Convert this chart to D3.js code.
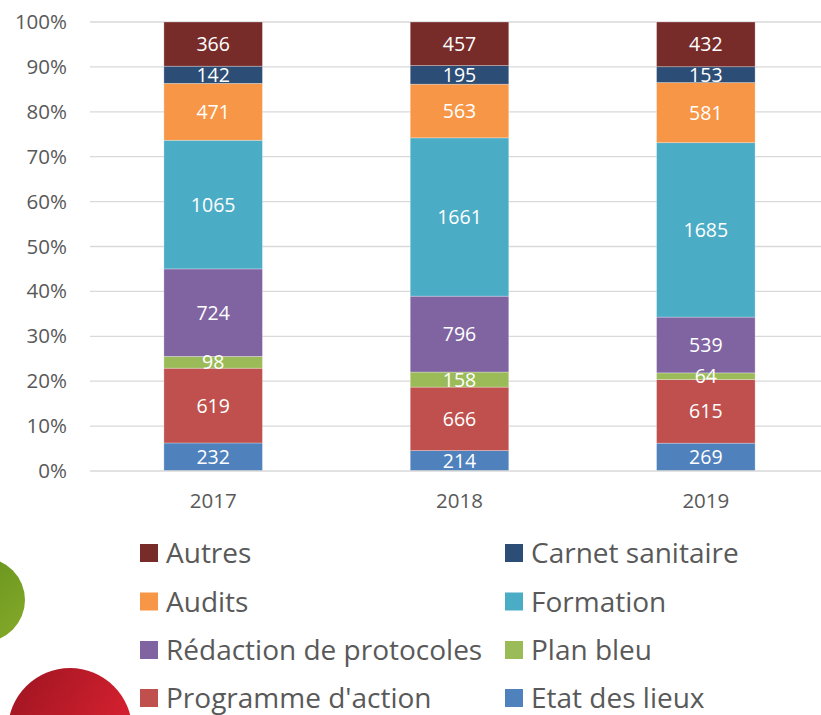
<!DOCTYPE html>
<html><head><meta charset="utf-8">
<script src="https://cdn.jsdelivr.net/npm/d3@7"></script>
<style>html,body{margin:0;padding:0;background:#fff;overflow:hidden}</style>
</head><body>
<svg id="c" width="821" height="715"></svg>
<script>
const years = ["2017", "2018", "2019"];
const seriesNames = ["Etat des lieux", "Programme d'action", "Plan bleu", "Rédaction de protocoles", "Formation", "Audits", "Carnet sanitaire", "Autres"];
const etatDesLieux = [232, 214, 269];
const programmeAction = [619, 666, 615];
const planBleu = [98, 158, 64];
const redaction = [724, 796, 539];
const formation = [1065, 1661, 1685];
const audits = [471, 563, 581];
const carnet = [142, 195, 153];
const autres = [366, 457, 432];
const yTicks = [0, 0.1, 0.2, 0.3, 0.4, 0.5, 0.6, 0.7, 0.8, 0.9, 1.0];
const colors = ["#4f81bd", "#c0504d", "#9bbb59", "#8064a2", "#4bacc6", "#f79646", "#2c4d75", "#772c2a"];
const legendOrder = [["Autres", "Carnet sanitaire"], ["Audits", "Formation"], ["Rédaction de protocoles", "Plan bleu"], ["Programme d'action", "Etat des lieux"]];

const seriesValues = [etatDesLieux, programmeAction, planBleu, redaction, formation, audits, carnet, autres];
const rows = years.map((y, i) => {
  const r = {year: y};
  seriesNames.forEach((s, k) => r[s] = seriesValues[k][i]);
  return r;
});

const FONT = "'Open Sans', sans-serif";
const svg = d3.select("#c");
const defs = svg.append("defs");
const gg = defs.append("linearGradient").attr("id", "gGreen").attr("x1", "0").attr("y1", "0").attr("x2", "1").attr("y2", "1");
gg.append("stop").attr("offset", "0").attr("stop-color", "#5e8c1a");
gg.append("stop").attr("offset", "1").attr("stop-color", "#86ab2a");
const gr = defs.append("linearGradient").attr("id", "gRed").attr("x1", "0").attr("y1", "0").attr("x2", "1").attr("y2", "0.6");
gr.append("stop").attr("offset", "0").attr("stop-color", "#9c1420");
gr.append("stop").attr("offset", "1").attr("stop-color", "#dc2232");

svg.append("circle").attr("cx", -17).attr("cy", 600).attr("r", 42).attr("fill", "url(#gGreen)");
svg.append("circle").attr("cx", 70).attr("cy", 730).attr("r", 62).attr("fill", "url(#gRed)");

const x = d3.scaleBand().domain(years).range([90, 829]).paddingInner(0.6).paddingOuter(0.3);
const y = d3.scaleLinear().domain([0, 1]).range([471, 22]);

// gridlines
svg.append("g").selectAll("line").data(yTicks.slice(1)).join("line")
  .attr("x1", 90).attr("x2", 821).attr("y1", d => y(d)).attr("y2", d => y(d))
  .attr("stroke", "#d9d9d9").attr("stroke-width", 1.3);

const stack = d3.stack().keys(seriesNames).offset(d3.stackOffsetExpand);
const stacked = stack(rows);

const g = svg.append("g");
stacked.forEach((layer, k) => {
  g.append("g").selectAll("rect").data(layer).join("rect")
    .attr("x", d => x(d.data.year))
    .attr("width", x.bandwidth())
    .attr("y", d => y(d[1]))
    .attr("height", d => y(d[0]) - y(d[1]))
    .attr("fill", colors[k])
    .attr("stroke", "#ffffff").attr("stroke-opacity", 0.35).attr("stroke-width", 0.8);
});
stacked.forEach((layer, k) => {
  g.append("g").selectAll("text").data(layer).join("text")
    .attr("x", d => x(d.data.year) + x.bandwidth() / 2)
    .attr("y", d => (y(d[0]) + y(d[1])) / 2)
    .attr("dy", "0.36em")
    .attr("text-anchor", "middle")
    .attr("font-family", FONT).attr("font-size", 19.5)
    .attr("fill", "#ffffff")
    .text(d => d.data[layer.key]);
});

// baseline
svg.append("line").attr("x1", 90).attr("x2", 821).attr("y1", y(0)).attr("y2", y(0))
  .attr("stroke", "#d9d9d9").attr("stroke-width", 1.5);

// y axis labels
const yAxis = d3.axisLeft(y).tickValues(yTicks).tickFormat(d3.format(".0%")).tickSize(0).tickPadding(0);
const ya = svg.append("g").attr("transform", "translate(67,0)").call(yAxis);
ya.select(".domain").remove();
ya.selectAll("text").attr("font-family", FONT).attr("font-size", 20.5).attr("fill", "#595959");

// x axis labels
const xAxis = d3.axisBottom(x).tickSize(0).tickPadding(0);
const xa = svg.append("g").attr("transform", "translate(0,493)").call(xAxis);
xa.select(".domain").remove();
xa.selectAll("text").attr("font-family", FONT).attr("font-size", 20.5).attr("fill", "#595959");

// legend
const colX = [140, 505];
const rowY = [553, 601.5, 650, 698];
legendOrder.forEach((pair, r) => {
  pair.forEach((name, c) => {
    const k = seriesNames.indexOf(name);
    svg.append("rect").attr("x", colX[c]).attr("y", rowY[r] - 9).attr("width", 18).attr("height", 18).attr("fill", colors[k]);
    svg.append("text").attr("x", colX[c] + 26).attr("y", rowY[r]).attr("dy", "0.36em")
      .attr("font-family", FONT).attr("font-size", 28).attr("fill", "#595959").text(name);
  });
});
</script>
</body></html>
